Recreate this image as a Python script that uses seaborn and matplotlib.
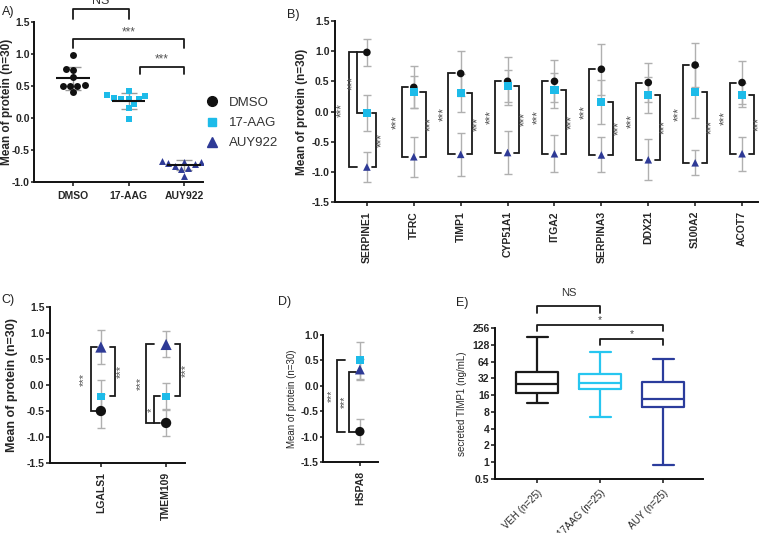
import numpy as np
import pandas as pd
import matplotlib.pyplot as plt
import seaborn as sns
from matplotlib.lines import Line2D
from matplotlib.ticker import FixedLocator, NullLocator

sns.set_style('ticks')
plt.rcParams['font.family'] = ['Liberation Sans', 'DejaVu Sans']
plt.rcParams['axes.linewidth'] = 1.4
plt.rcParams['xtick.major.width'] = 1.2
plt.rcParams['ytick.major.width'] = 1.2
plt.rcParams['xtick.major.size'] = 3
plt.rcParams['ytick.major.size'] = 3
plt.rcParams['ytick.major.pad'] = 1
plt.rcParams['axes.edgecolor'] = '#111111'

# ---- dados ----
grupos = ['DMSO', '17-AAG', 'AUY922']

# painel A (valores individuais)
a_dmso = [0.98, 0.77, 0.75, 0.64, 0.52, 0.50, 0.50, 0.50, 0.40]
a_aag = [0.42, 0.36, 0.35, 0.32, 0.30, 0.30, 0.29, 0.22, 0.15, -0.02]
a_auy = [-0.67, -0.67, -0.68, -0.68, -0.70, -0.72, -0.75, -0.78, -0.80, -0.90]

# painel B (média e erro)
genes_b = ['SERPINE1', 'TFRC', 'TIMP1', 'CYP51A1', 'ITGA2', 'SERPINA3', 'DDX21', 'S100A2', 'ACOT7']
b_dmso = [0.98, 0.40, 0.63, 0.50, 0.50, 0.70, 0.48, 0.77, 0.48]
b_dmso_err = [0.22, 0.35, 0.37, 0.40, 0.35, 0.42, 0.32, 0.37, 0.35]
b_aag = [-0.03, 0.32, 0.31, 0.42, 0.35, 0.16, 0.28, 0.33, 0.28]
b_aag_err = [0.30, 0.27, 0.31, 0.26, 0.29, 0.36, 0.30, 0.43, 0.20]
b_auy = [-0.92, -0.75, -0.71, -0.68, -0.70, -0.72, -0.80, -0.85, -0.70]
b_auy_err = [0.25, 0.33, 0.36, 0.35, 0.31, 0.29, 0.34, 0.21, 0.28]

# painel C
genes_c = ['LGALS1', 'TMEM109']
c_dmso = [-0.50, -0.73]
c_dmso_err = [0.32, 0.26]
c_aag = [-0.22, -0.22]
c_aag_err = [0.31, 0.26]
c_auy = [0.73, 0.78]
c_auy_err = [0.33, 0.25]

# painel D
genes_d = ['HSPA8']
d_dmso = [-0.90]
d_dmso_err = [0.24]
d_aag = [0.50]
d_aag_err = [0.36]
d_auy = [0.32]
d_auy_err = [0.20]

# painel E (min, Q1, mediana, Q3, max)
grupos_e = ['VEH (n=25)', '17AAG (n=25)', 'AUY (n=25)']
e_veh = [11.6, 17.5, 25.4, 41.6, 176]
e_aag = [6.5, 20.7, 26.4, 38, 95]
e_auy = [0.9, 9.8, 13.7, 27.6, 71]

cores = {'DMSO': '#111111', '17-AAG': '#1dbbe9', 'AUY922': '#2e3a96'}
marcadores = {'DMSO': 'o', '17-AAG': 's', 'AUY922': '^'}
cores_e = ['#1a1a1a', '#27c6f0', '#2b3c9c']

W, H = 760, 533
fig = plt.figure(figsize=(W / 100, H / 100), dpi=100)


def eixo_px(l, t, r, b):
    return fig.add_axes([l / W, 1 - b / H, (r - l) / W, (b - t) / H])


def estilo(ax):
    sns.despine(ax=ax)
    for lab in ax.get_yticklabels():
        lab.set_fontweight('bold')
        lab.set_fontsize(7.5)


def colchete(ax, x, y1, y2, braco, texto, tx, fs=8.5):
    ax.plot([x + braco, x, x, x + braco], [y1, y1, y2, y2], color='#1a1a1a', lw=1.3,
            clip_on=False, solid_joinstyle='miter')
    ax.text(tx, (y1 + y2) / 2, texto, rotation=90, ha='center', va='center',
            fontsize=fs, color='#555555')


def painel_medias(ax, genes, med, err, tamanhos):
    linhas = []
    for g in grupos:
        for i, gene in enumerate(genes):
            linhas.append({'pos': i, 'grupo': g, 'media': med[g][i], 'erro': err[g][i]})
    df = pd.DataFrame(linhas)
    ax.errorbar(df['pos'], df['media'], yerr=df['erro'], fmt='none', ecolor='#b0b0b0',
                elinewidth=1, capsize=3, capthick=1, zorder=1)
    sns.scatterplot(data=df, x='pos', y='media', hue='grupo', style='grupo', size='grupo',
                    palette=cores, markers=marcadores, sizes=tamanhos, linewidth=0,
                    legend=False, ax=ax, zorder=3)
    ax.set_xticks(range(len(genes)))
    ax.set_xticklabels(genes, rotation=90, fontsize=7.5, fontweight='bold')
    ax.set_xlabel('')


# ---- painel A ----
axA = eixo_px(34, 22, 203, 182)
dfa = pd.DataFrame({'grupo': ['DMSO'] * len(a_dmso) + ['17-AAG'] * len(a_aag) + ['AUY922'] * len(a_auy),
                    'valor': a_dmso + a_aag + a_auy})
for i, g in enumerate(grupos):
    sub = dfa[dfa['grupo'] == g]
    sns.swarmplot(data=sub, x='grupo', y='valor', order=grupos, color=cores[g], marker=marcadores[g],
                  size=5, linewidth=0, ax=axA, zorder=2)
    v = sub['valor'].to_numpy()
    m, s = v.mean(), v.std(ddof=1)
    axA.errorbar(i, m, yerr=s, fmt='none', ecolor='#999999', elinewidth=1, capsize=6, capthick=1, zorder=1)
    axA.hlines(m, i - 0.3, i + 0.3, color='#111111', lw=1.5, zorder=4)
axA.set_xlim(-0.7, 2.34)
axA.set_ylim(-1.0, 1.5)
axA.set_yticks([-1.0, -0.5, 0.0, 0.5, 1.0, 1.5])
axA.set_yticklabels(['-1.0', '-0.5', '0.0', '0.5', '1.0', '1.5'])
axA.set_xlabel('')
axA.set_ylabel('Mean of protein (n=30)', fontsize=8.5, fontweight='bold')
axA.yaxis.set_label_coords(-0.125, 0.5)
axA.tick_params(axis='y', length=2.5, pad=0.5)
axA.set_xticks(range(3))
axA.set_xticklabels(grupos, fontsize=7.5, fontweight='bold')
estilo(axA)
axA.plot([0, 0, 1, 1], [1.55, 1.70, 1.70, 1.55], color='#1a1a1a', lw=1.3, clip_on=False)
axA.text(0.5, 1.74, 'NS', ha='center', va='bottom', fontsize=9, color='#333333', clip_on=False)
axA.plot([0, 0, 2, 2], [1.09, 1.23, 1.23, 1.09], color='#1a1a1a', lw=1.3, clip_on=False)
axA.text(1.0, 1.25, '***', ha='center', va='bottom', fontsize=8.5, color='#555555')
axA.plot([1.2, 1.2, 2, 2], [0.69, 0.80, 0.80, 0.69], color='#1a1a1a', lw=1.3, clip_on=False)
axA.text(1.6, 0.82, '***', ha='center', va='bottom', fontsize=8.5, color='#555555')

alcas = [Line2D([], [], marker='o', color=cores['DMSO'], ls='none', markersize=7),
         Line2D([], [], marker='s', color=cores['17-AAG'], ls='none', markersize=5.5),
         Line2D([], [], marker='^', color=cores['AUY922'], ls='none', markersize=7)]
fig.legend(alcas, grupos, loc='upper left', bbox_to_anchor=(192 / W, 1 - 85 / H), frameon=False,
           fontsize=9.5, labelcolor='#333333', handletextpad=0.7, labelspacing=0.6, handlelength=1.2)

# ---- painel B ----
axB = eixo_px(335, 21, 758, 202)
painel_medias(axB, genes_b,
              {'DMSO': b_dmso, '17-AAG': b_aag, 'AUY922': b_auy},
              {'DMSO': b_dmso_err, '17-AAG': b_aag_err, 'AUY922': b_auy_err},
              {'DMSO': 30, '17-AAG': 34, 'AUY922': 30})
axB.set_xlim(-0.68, 8.34)
axB.set_ylim(-1.5, 1.5)
axB.set_yticks(np.arange(-1.5, 1.51, 0.5))
axB.set_yticklabels(['-1.5', '-1.0', '-0.5', '0.0', '0.5', '1.0', '1.5'])
axB.set_ylabel('Mean of protein (n=30)', fontsize=8.5, fontweight='bold')
axB.yaxis.set_label_coords(-0.064, 0.5)
estilo(axB)
for i in range(len(genes_b)):
    if i == 0:
        colchete(axB, i - 0.38, b_dmso[i], b_auy[i], 0.17, '***', i - 0.52)
        colchete(axB, i - 0.21, b_dmso[i], b_aag[i], 0.12, '***', i - 0.30)
        colchete(axB, i + 0.20, b_aag[i], b_auy[i], -0.10, '***', i + 0.32)
    else:
        colchete(axB, i - 0.26, b_dmso[i], b_auy[i], 0.13, '***', i - 0.35)
        colchete(axB, i + 0.25, b_aag[i], b_auy[i], -0.11, '***', i + 0.37)

# ---- painel C ----
axC = eixo_px(50, 307, 185, 463)
painel_medias(axC, genes_c,
              {'DMSO': c_dmso, '17-AAG': c_aag, 'AUY922': c_auy},
              {'DMSO': c_dmso_err, '17-AAG': c_aag_err, 'AUY922': c_auy_err},
              {'DMSO': 55, '17-AAG': 28, 'AUY922': 65})
axC.set_xlim(-0.78, 1.29)
axC.set_ylim(-1.5, 1.5)
axC.set_yticks(np.arange(-1.5, 1.51, 0.5))
axC.set_yticklabels(['-1.5', '-1.0', '-0.5', '0.0', '0.5', '1.0', '1.5'])
axC.set_ylabel('Mean of protein (n=30)', fontsize=9, fontweight='bold')
axC.yaxis.set_label_coords(-0.235, 0.5)
estilo(axC)
colchete(axC, -0.15, c_auy[0], c_dmso[0], 0.09, '***', -0.26, fs=8)
colchete(axC, 0.215, c_auy[0], c_aag[0], -0.08, '***', 0.31, fs=8)
colchete(axC, 1 - 0.31, c_auy[1], c_dmso[1], 0.12, '***', 1 - 0.38, fs=8)
colchete(axC, 1 - 0.18, c_aag[1], c_dmso[1], 0.08, '*', 1 - 0.225, fs=8)
colchete(axC, 1 + 0.215, c_auy[1], c_aag[1], -0.08, '***', 1 + 0.30, fs=8)

# ---- painel D ----
axD = eixo_px(323, 335, 378, 462)
painel_medias(axD, genes_d,
              {'DMSO': d_dmso, '17-AAG': d_aag, 'AUY922': d_auy},
              {'DMSO': d_dmso_err, '17-AAG': d_aag_err, 'AUY922': d_auy_err},
              {'DMSO': 45, '17-AAG': 32, 'AUY922': 50})
axD.set_xlim(-0.67, 0.33)
axD.set_ylim(-1.5, 1.0)
axD.set_yticks(np.arange(-1.5, 1.01, 0.5))
axD.set_yticklabels(['-1.5', '-1.0', '-0.5', '0.0', '0.5', '1.0'])
axD.set_ylabel('Mean of protein (n=30)', fontsize=7)
axD.yaxis.set_label_coords(-0.47, 0.5)
axD.tick_params(axis='y', length=2.5, pad=0.5)
estilo(axD)
colchete(axD, -0.42, d_aag[0], d_dmso[0], 0.15, '***', -0.50, fs=7.5)
colchete(axD, -0.20, d_auy[0] - 0.04, d_dmso[0], 0.13, '***', -0.28, fs=7.5)

# ---- painel E ----
axE = eixo_px(495, 328, 703, 479)
dfe = pd.DataFrame({'grupo': np.repeat(grupos_e, 5), 'valor': e_veh + e_aag + e_auy})
sns.boxplot(data=dfe, x='grupo', y='valor', hue='grupo', palette=cores_e, fill=False,
            whis=(0, 100), width=0.67, linewidth=1.6, log_scale=2, legend=False, ax=axE)
axE.set_ylim(0.5, 256)
axE.set_xlim(-0.67, 2.63)
ticks_e = [0.5, 1, 2, 4, 8, 16, 32, 64, 128, 256]
axE.yaxis.set_major_locator(FixedLocator(ticks_e))
axE.yaxis.set_minor_locator(NullLocator())
axE.set_yticklabels(['0.5', '1', '2', '4', '8', '16', '32', '64', '128', '256'])
axE.set_xlabel('')
axE.set_ylabel('secreted TIMP1 (ng/mL)', fontsize=7)
axE.yaxis.set_label_coords(-0.135, 0.5)
axE.set_xticks(range(3))
axE.set_xticklabels(grupos_e, rotation=45, ha='right', rotation_mode='anchor', fontsize=7)
estilo(axE)
tr = axE.get_xaxis_transform()
axE.plot([0, 0, 1, 1], [1.099, 1.146, 1.146, 1.099], color='#1a1a1a', lw=1.3, transform=tr, clip_on=False)
axE.text(0.5, 1.20, 'NS', ha='center', va='bottom', fontsize=8, color='#333333', transform=tr)
axE.plot([0, 0, 2, 2], [0.980, 1.020, 1.020, 0.980], color='#1a1a1a', lw=1.3, transform=tr, clip_on=False)
axE.text(1.0, 1.02, '*', ha='center', va='bottom', fontsize=7.5, color='#444444', transform=tr)
axE.plot([1, 1, 2, 2], [0.887, 0.927, 0.927, 0.887], color='#1a1a1a', lw=1.3, transform=tr, clip_on=False)
axE.text(1.5, 0.927, '*', ha='center', va='bottom', fontsize=7.5, color='#444444', transform=tr)

# ---- rótulos dos painéis ----
for txt, x, y in [('A)', 8, 12), ('B)', 293, 15), ('C)', 8, 300), ('D)', 285, 302), ('E)', 462, 303)]:
    fig.text(x / W, 1 - y / H, txt, fontsize=9, ha='center', va='center', color='#222222')

plt.savefig('out.png', dpi=100)
plt.close()
